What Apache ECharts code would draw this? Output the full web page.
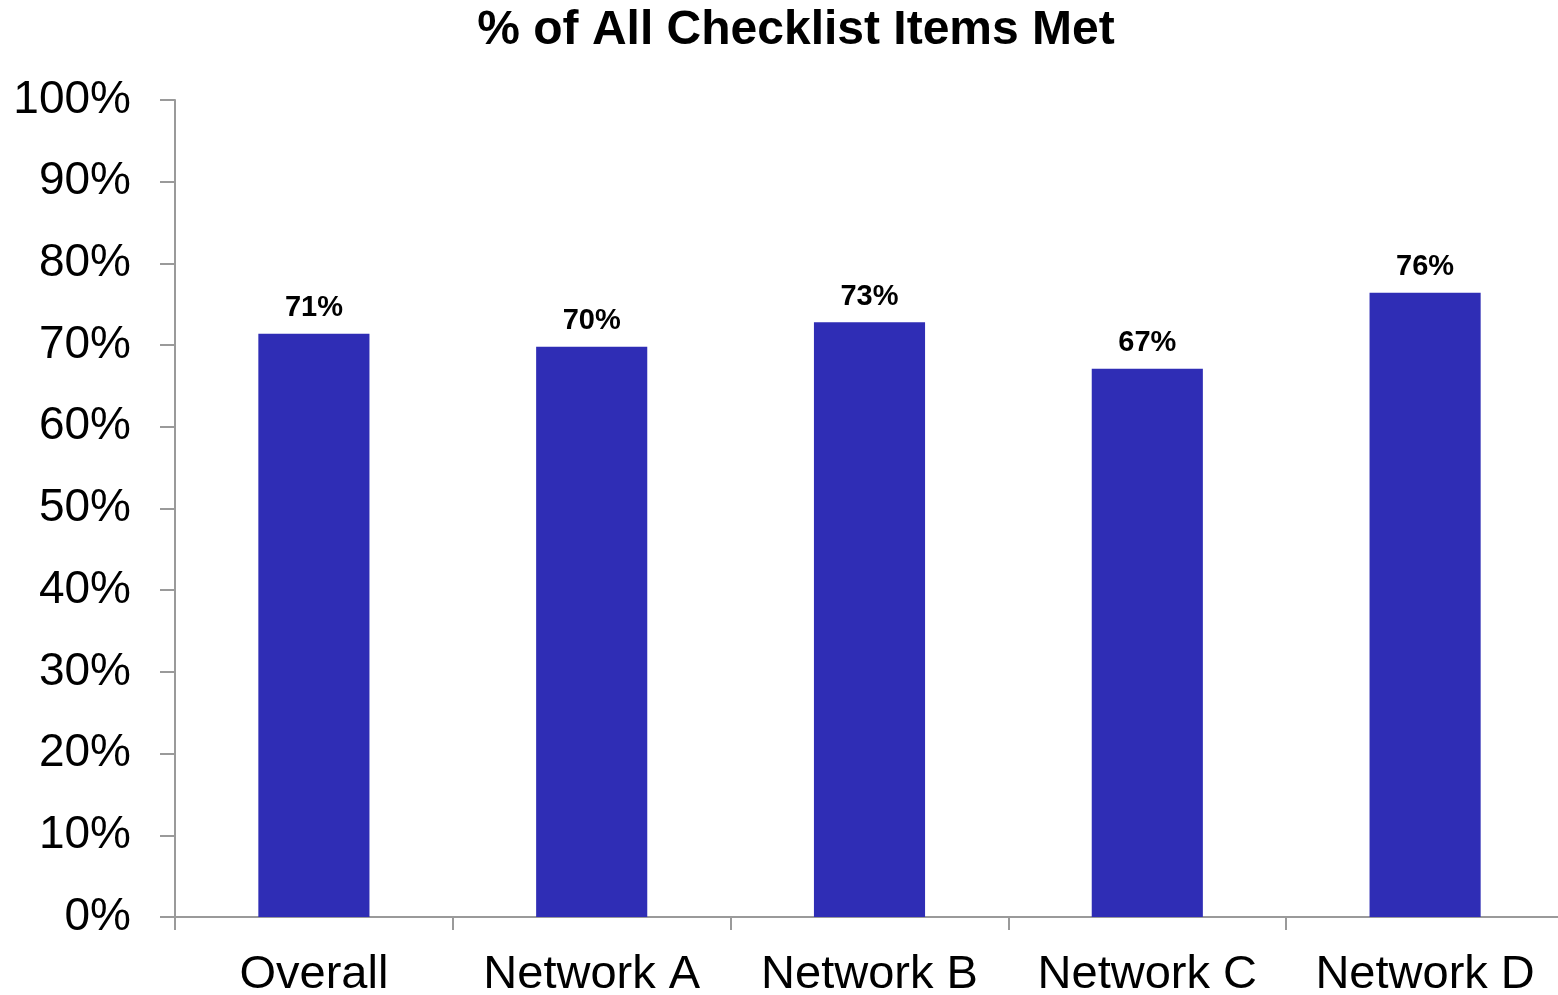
<!DOCTYPE html>
<html>
<head>
<meta charset="utf-8">
<title>% of All Checklist Items Met</title>
<script src="https://cdn.jsdelivr.net/npm/echarts@6/dist/echarts.min.js"></script>
<style>
  html, body { margin: 0; padding: 0; background: #ffffff; overflow: hidden; }
  #chart { width: 1558px; height: 995px; }
</style>
</head>
<body>
<div id="chart"></div>
<script>
// Share of checklist items met, overall and per network
const categories = ['Overall', 'Network A', 'Network B', 'Network C', 'Network D'];
const percentMet = [71.4, 69.8, 72.8, 67.1, 76.4];
const yTicks = [0, 10, 20, 30, 40, 50, 60, 70, 80, 90, 100];

const axisGray = '#9a9a9a';
const fontFamily = '"Liberation Sans", Arial, sans-serif';

const chart = echarts.init(document.getElementById('chart'));

chart.setOption({
  animation: false,
  title: {
    text: '% of All Checklist Items Met',
    left: 791,
    textAlign: 'center',
    top: 2,
    textStyle: {
      fontFamily: '"Liberation Sans Narrow", "Liberation Sans", Arial, sans-serif',
      fontWeight: 'bold',
      fontSize: 48,
      color: '#000000'
    }
  },
  grid: {
    left: 175,
    top: 100,
    width: 1389,
    height: 817,
    containLabel: false,
    // the plot runs a few pixels past the right edge; keep the rect as given
    outerBoundsMode: 'none'
  },
  xAxis: {
    type: 'category',
    data: categories,
    axisLine: { show: true, lineStyle: { color: axisGray, width: 2 } },
    axisTick: { show: true, length: 13, interval: 0, alignWithLabel: false, lineStyle: { color: axisGray, width: 2 } },
    axisLabel: {
      interval: 0,
      margin: 35,
      fontFamily: fontFamily,
      fontSize: 47,
      color: '#000000'
    },
    splitLine: { show: false }
  },
  yAxis: {
    type: 'value',
    min: yTicks[0],
    max: yTicks[yTicks.length - 1],
    interval: yTicks[1] - yTicks[0],
    axisLine: { show: true, lineStyle: { color: axisGray, width: 2 } },
    axisTick: { show: true, length: 15, lineStyle: { color: axisGray, width: 2 } },
    axisLabel: {
      margin: 44,
      fontFamily: fontFamily,
      fontSize: 46,
      color: '#000000',
      formatter: v => v + '%'
    },
    splitLine: { show: false }
  },
  series: [{
    type: 'bar',
    data: percentMet,
    barCategoryGap: '60%',
    itemStyle: { color: '#2F2DB5' },
    label: {
      show: true,
      position: 'top',
      distance: 11,
      fontFamily: fontFamily,
      fontWeight: 'bold',
      fontSize: 29,
      color: '#000000',
      formatter: p => Math.round(p.value) + '%'
    }
  }]
});
</script>
</body>
</html>
